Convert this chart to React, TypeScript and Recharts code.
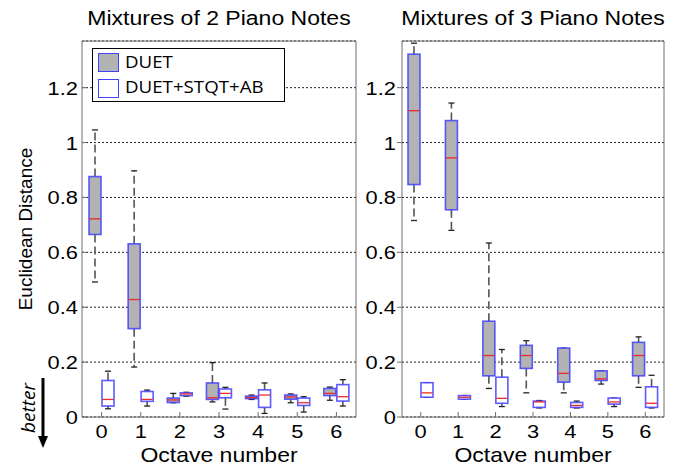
import React from 'react';
import { ComposedChart, Bar, XAxis, YAxis, CartesianGrid, Legend, Label } from 'recharts';

const octaves = ['0', '1', '2', '3', '4', '5', '6'];
const yTicks = [0, 0.2, 0.4, 0.6, 0.8, 1, 1.2];
const yDomainMax = 1.37;
const seriesNames = ['DUET', 'DUET+STQT+AB'];
const titles = ['Mixtures of 2 Piano Notes', 'Mixtures of 3 Piano Notes'];
const xTitle = 'Octave number';
const yTitle = 'Euclidean Distance';

// [min, q1, median, q3, max]
const duet2 = [
  [0.492, 0.665, 0.722, 0.876, 1.046],
  [0.182, 0.322, 0.428, 0.631, 0.897],
  [0.052, 0.053, 0.062, 0.069, 0.086],
  [0.055, 0.064, 0.07, 0.124, 0.198],
  [0.064, 0.067, 0.071, 0.076, 0.08],
  [0.052, 0.065, 0.073, 0.08, 0.084],
  [0.061, 0.078, 0.086, 0.104, 0.109],
];
const stqt2 = [
  [0.03, 0.04, 0.064, 0.133, 0.167],
  [0.04, 0.057, 0.064, 0.093, 0.098],
  [0.076, 0.078, 0.084, 0.088, 0.09],
  [0.029, 0.07, 0.086, 0.102, 0.108],
  [0.013, 0.035, 0.08, 0.099, 0.124],
  [0.018, 0.042, 0.052, 0.069, 0.074],
  [0.04, 0.058, 0.074, 0.118, 0.136],
];
const duet3 = [
  [0.716, 0.847, 1.116, 1.322, 1.362],
  [0.68, 0.755, 0.944, 1.08, 1.144],
  [0.104, 0.15, 0.224, 0.349, 0.634],
  [0.088, 0.177, 0.224, 0.261, 0.278],
  [0.088, 0.127, 0.159, 0.251, 0.251],
  [0.12, 0.133, 0.139, 0.168, 0.168],
  [0.108, 0.15, 0.224, 0.272, 0.292],
];
const stqt3 = [
  [0.072, 0.072, 0.088, 0.125, 0.125],
  [0.065, 0.065, 0.072, 0.078, 0.078],
  [0.038, 0.05, 0.068, 0.145, 0.246],
  [0.033, 0.035, 0.055, 0.058, 0.06],
  [0.033, 0.035, 0.042, 0.053, 0.058],
  [0.038, 0.047, 0.055, 0.069, 0.069],
  [0.033, 0.035, 0.05, 0.11, 0.152],
];

const buildRows = (d: number[][], s: number[][]) =>
  octaves.map((o, i) => ({ octave: o, duet: d[i], stqt: s[i] }));

const rows2 = buildRows(duet2, stqt2);
const rows3 = buildRows(duet3, stqt3);

const SANS = '"Liberation Sans", Arial, Helvetica, sans-serif';
const UI = '"Open Sans", "Noto Sans", sans-serif';
const GRAY_FILL = '#b3b3b3';
const BLUE = '#4040ff';
const RED = '#ee2a2a';
const FRAME = '#6e6e6e';

function SText(props: any) {
  const { x, y, children, anchor = 'middle', size = 20, family = SANS, sx = 1.15, style, ...rest } = props;
  return (
    <text
      x={x}
      y={y}
      textAnchor={anchor}
      fontSize={size}
      fontFamily={family}
      fill="#000"
      style={style}
      transform={`translate(${x} ${y}) scale(${sx} 1) translate(${-x} ${-y})`}
      {...rest}
    >
      {children}
    </text>
  );
}

const whiskerRange = (key: string) => (r: any) => [r[key][0], r[key][4]];

function renderBox(p: any, key: string, fill: string) {
  const { x, y, width, height, payload } = p;
  const s = payload && payload[key];
  if (!s) return <g />;
  const [mn, q1, md, q3, mx] = s;
  const top = Math.min(y, y + height);
  const h = Math.abs(height);
  const ppu = h / (mx - mn);
  const py = (v: number) => top + (mx - v) * ppu;
  const cx = x + width / 2;
  return (
    <g>
      {mx > q3 && (
        <line x1={cx} x2={cx} y1={py(q3)} y2={py(mx)} stroke="#555" strokeWidth={1.6} strokeDasharray="8 4" />
      )}
      {mn < q1 && (
        <line x1={cx} x2={cx} y1={py(q1)} y2={py(mn)} stroke="#555" strokeWidth={1.6} strokeDasharray="8 4" />
      )}
      <line x1={cx - 3} x2={cx + 3} y1={py(mx)} y2={py(mx)} stroke="#222" strokeWidth={1.3} />
      <line x1={cx - 3} x2={cx + 3} y1={py(mn)} y2={py(mn)} stroke="#222" strokeWidth={1.3} />
      <rect
        x={x}
        y={py(q3)}
        width={width}
        height={Math.max(py(q1) - py(q3), 1)}
        fill={fill}
        stroke={BLUE}
        strokeWidth={1.6}
        strokeOpacity={0.85}
      />
      <line x1={x + 0.5} x2={x + width - 0.5} y1={py(md)} y2={py(md)} stroke={RED} strokeWidth={1.3} />
    </g>
  );
}

const XTick = (props: any) => {
  const { x, y, payload } = props;
  return (
    <SText x={x} y={y + 13} size={19}>
      {payload.value}
    </SText>
  );
};

const YTick = (props: any) => {
  const { x, y, payload } = props;
  return (
    <SText x={x} y={y + 7} size={19} anchor="end">
      {String(payload.value)}
    </SText>
  );
};

const LegendBox = () => (
  <div
    style={{
      width: 191,
      height: 52,
      border: '1px solid #000',
      background: '#fff',
      position: 'relative',
      fontFamily: UI,
      fontSize: 17,
      color: '#000',
    }}
  >
    {seriesNames.map((n, i) => (
      <React.Fragment key={n}>
        <div
          style={{
            position: 'absolute',
            left: 5,
            top: 4 + i * 26,
            width: 19,
            height: 17,
            background: i === 0 ? GRAY_FILL : '#fff',
            border: `1px solid ${BLUE}`,
          }}
        />
        <div
          style={{
            position: 'absolute',
            left: 32,
            top: 2 + i * 25,
            lineHeight: '22px',
            whiteSpace: 'nowrap',
            transform: 'scaleX(1.1)',
            transformOrigin: 'left center',
          }}
        >
          {n}
        </div>
      </React.Fragment>
    ))}
  </div>
);

function Panel(props: any) {
  const { rows, width, yAxisWidth, marginRight, title, showYTitle, showLegend, yTickSize, yTickMargin } = props;
  return (
    <ComposedChart
      width={width}
      height={468}
      data={rows}
      margin={{ top: 40, right: marginRight, left: 0, bottom: 0 }}
      barSize={12}
      barGap={1}
    >
      <CartesianGrid horizontal vertical={false} stroke="#222" strokeDasharray="2 2" />
      <XAxis
        dataKey="octave"
        height={51}
        interval={0}
        stroke={FRAME}
        tickSize={-5}
        tickMargin={13}
        tick={<XTick />}
      >
        <Label
          content={(lp: any) => {
            const vb = lp.viewBox || { x: 0, y: 0, width: 0 };
            return (
              <SText x={vb.x + vb.width / 2} y={vb.y + 45} size={20}>
                {xTitle}
              </SText>
            );
          }}
        />
      </XAxis>
      <XAxis
        xAxisId="top"
        orientation="top"
        dataKey="octave"
        height={1}
        interval={0}
        stroke={FRAME}
        tickSize={-5}
        tick={false}
      >
        <Label
          content={(lp: any) => {
            const vb = lp.viewBox || { x: 0, y: 0, width: 0 };
            return (
              <SText x={vb.x + vb.width / 2} y={25} size={19.5} sx={1.18}>
                {title}
              </SText>
            );
          }}
        />
      </XAxis>
      <YAxis
        type="number"
        domain={[0, yDomainMax]}
        ticks={yTicks}
        width={yAxisWidth}
        stroke={FRAME}
        tickSize={yTickSize}
        tickMargin={yTickMargin}
        tick={<YTick />}
        allowDataOverflow
      >
        {showYTitle && (
          <Label
            content={(lp: any) => {
              const vb = lp.viewBox || { x: 0, y: 0, width: 0, height: 0 };
              const cy = vb.y + vb.height / 2;
              const bx = vb.x + 28;
              return (
                <g>
                  <text
                    x={vb.x + 25}
                    y={cy}
                    textAnchor="middle"
                    fontSize={19}
                    fontFamily={SANS}
                    fill="#000"
                    transform={`rotate(-90 ${vb.x + 25} ${cy}) translate(0 7)`}
                  >
                    {yTitle}
                  </text>
                  <text
                    x={bx}
                    y={408}
                    textAnchor="middle"
                    fontSize={19}
                    fontStyle="italic"
                    fontFamily={UI}
                    fill="#000"
                    transform={`rotate(-90 ${bx} 408) translate(0 7)`}
                  >
                    better
                  </text>
                  <line x1={vb.x + 43} x2={vb.x + 43} y1={378} y2={438} stroke="#000" strokeWidth={3} />
                  <polygon
                    points={`${vb.x + 38},436 ${vb.x + 48},436 ${vb.x + 43},448`}
                    fill="#000"
                  />
                </g>
              );
            }}
          />
        )}
      </YAxis>
      <YAxis
        yAxisId="right"
        orientation="right"
        type="number"
        domain={[0, yDomainMax]}
        ticks={yTicks}
        width={1}
        stroke={FRAME}
        tickSize={-5}
        tick={false}
        allowDataOverflow
      />
      <Bar
        dataKey={whiskerRange('duet')}
        name={seriesNames[0]}
        fill={GRAY_FILL}
        isAnimationActive={false}
        shape={(p: any) => renderBox(p, 'duet', GRAY_FILL)}
      />
      <Bar
        dataKey={whiskerRange('stqt')}
        name={seriesNames[1]}
        fill="#fff"
        isAnimationActive={false}
        shape={(p: any) => renderBox(p, 'stqt', '#fff')}
      />
      {showLegend && (
        <Legend
          layout="vertical"
          align="center"
          verticalAlign="middle"
          content={() => <LegendBox />}
          wrapperStyle={{ left: 92, top: 48, width: 193, height: 54 }}
        />
      )}
    </ComposedChart>
  );
}

export default function App() {
  return (
    <div style={{ position: 'absolute', left: 0, top: 0, width: 688, height: 468, background: '#fff' }}>
      <div style={{ position: 'absolute', left: 0, top: 0 }}>
        <Panel
          rows={rows2}
          width={360}
          yAxisWidth={82}
          marginRight={3}
          title={titles[0]}
          showYTitle
          showLegend
          yTickSize={-5}
          yTickMargin={9}
        />
      </div>
      <div style={{ position: 'absolute', left: 360, top: 0 }}>
        <Panel
          rows={rows3}
          width={328}
          yAxisWidth={42}
          marginRight={23}
          title={titles[1]}
          showYTitle={false}
          showLegend={false}
          yTickSize={5}
          yTickMargin={1}
        />
      </div>
    </div>
  );
}
